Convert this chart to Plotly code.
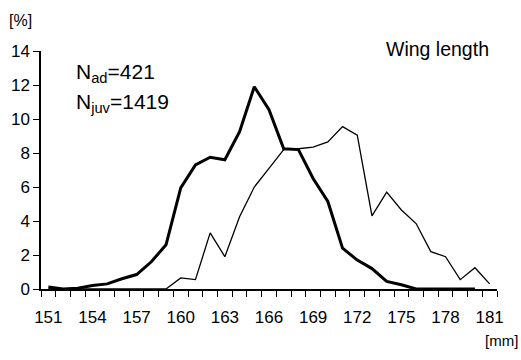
import plotly.graph_objects as go

wing_mm = list(range(151, 182))
adults_pct = [0.12, 0.0, 0.05, 0.2, 0.3, 0.6, 0.85, 1.6, 2.6, 5.95,
              7.3, 7.75, 7.6, 9.25, 11.9, 10.55, 8.25, 8.2, 6.5, 5.15,
              2.4, 1.7, 1.2, 0.45, 0.25, 0.0, 0.0, 0.0, 0.0, 0.0, None]
juveniles_pct = [0, 0, 0, 0, 0, 0, 0, 0, 0, 0.65,
                 0.55, 3.3, 1.9, 4.25, 6.0, 7.1, 8.2, 8.25, 8.35, 8.65,
                 9.55, 9.05, 4.3, 5.7, 4.65, 3.85, 2.2, 1.9, 0.55, 1.25, 0.3]
x_tick_labels = [151, 154, 157, 160, 163, 166, 169, 172, 175, 178, 181]
y_ticks = [0, 2, 4, 6, 8, 10, 12, 14]
category_edges = [v - 0.5 for v in wing_mm] + [wing_mm[-1] + 0.5]

FONT = "Liberation Sans, Arial, sans-serif"

fig = go.Figure()
fig.add_trace(go.Scatter(x=wing_mm, y=juveniles_pct, mode="lines",
                         line=dict(color="black", width=1.3), name="juv"))
fig.add_trace(go.Scatter(x=wing_mm, y=adults_pct, mode="lines",
                         line=dict(color="black", width=3), name="ad"))

L, R, T, B = 41, 24, 51, 71
W, H = 521, 360
pw, ph = W - L - R, H - T - B

def px(xp):
    return (xp - L) / pw

def py(yp):
    return (H - B - yp) / ph

fig.update_layout(
    width=W, height=H,
    margin=dict(l=L, r=R, t=T, b=B),
    paper_bgcolor="white", plot_bgcolor="white",
    showlegend=False,
    font=dict(family=FONT, color="black", size=16),
    xaxis=dict(range=[150.5, 181.5], tickmode="array", tickvals=x_tick_labels,
               ticktext=[str(v) for v in x_tick_labels], ticks="", ticklen=0,
               ticklabelstandoff=12,
               showgrid=False, zeroline=False, showline=True, linecolor="black",
               linewidth=2, tickfont=dict(size=17, family=FONT),
               minor=dict(tickmode="array", tickvals=category_edges, ticks="outside",
                          ticklen=6, tickcolor="black", tickwidth=1.3, showgrid=False)),
    yaxis=dict(range=[0, 14], tickmode="array", tickvals=y_ticks,
               ticks="outside", ticklen=6, tickcolor="black", tickwidth=1.3,
               showgrid=False, zeroline=False, showline=True, linecolor="black",
               linewidth=1.5, tickfont=dict(size=17, family=FONT)),
)

ann = [
    dict(text="[%]", x=px(7), y=py(20), xanchor="left", yanchor="middle", size=16),
    dict(text="N<sub>ad</sub>=421", x=px(74), y=py(73), xanchor="left", yanchor="middle", size=21),
    dict(text="N<sub>juv</sub>=1419", x=px(74), y=py(103), xanchor="left", yanchor="middle", size=21),
    dict(text="Wing length", x=px(384), y=py(49), xanchor="left", yanchor="middle", size=19.5),
    dict(text="[mm]", x=px(520), y=py(340), xanchor="right", yanchor="middle", size=15),
]
for a in ann:
    fig.add_annotation(text=a["text"], x=a["x"], y=a["y"], xref="paper", yref="paper",
                       xanchor=a["xanchor"], yanchor=a["yanchor"], showarrow=False,
                       font=dict(size=a["size"], family=FONT, color="black"))

fig.write_html("out.html", config={"displayModeBar": False},
               post_script="document.body.style.margin='0';")
